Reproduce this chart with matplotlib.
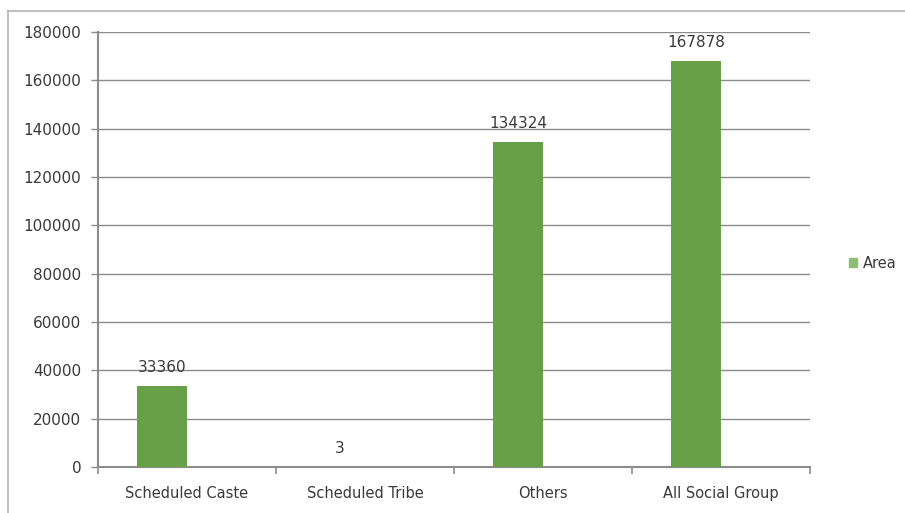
import matplotlib
matplotlib.use("Agg")
import matplotlib.pyplot as plt
from matplotlib.lines import Line2D
from matplotlib.ticker import FixedLocator, NullFormatter
import numpy as np

plt.rcParams["font.family"] = ["DejaVu Sans"]

categories = ["Scheduled Caste", "Scheduled Tribe", "Others", "All Social Group"]
area = [33360, 3, 134324, 167878]
y_ticks = [0, 20000, 40000, 60000, 80000, 100000, 120000, 140000, 160000, 180000]
series_name = "Area"

bar_color = "#68a047"
grid_color = "#8c8c8c"
text_color = "#3a3a3a"

W, H = 905, 513
fig = plt.figure(figsize=(W / 100, H / 100), dpi=100)
fig.patch.set_facecolor("white")

# outer chart frame (top and left edges)
fig.add_artist(Line2D([8 / W, 8 / W], [0, 1 - 11 / H], color="#b4b4b4", lw=1.2))
fig.add_artist(Line2D([8 / W, 1], [1 - 11 / H, 1 - 11 / H], color="#b4b4b4", lw=1.2))

ax = fig.add_axes([98 / W, 46 / H, (810 - 98) / W, (467 - 32) / H])

x = np.arange(len(categories))
offset = -0.14
width = 0.28
bars = ax.bar(x + offset, area, width=width, color=bar_color, label=series_name, zorder=3)

for b, v in zip(bars, area):
    ax.annotate(f"{v}", (b.get_x() + b.get_width() / 2, v), xytext=(0, 8),
                textcoords="offset points", ha="center", va="bottom",
                fontsize=11, color=text_color, zorder=4)

ax.set_xlim(-0.5, len(categories) - 0.5)
ax.set_ylim(0, 180000)
ax.set_yticks(y_ticks)
ax.set_yticklabels([str(t) for t in y_ticks])
ax.set_xticks(x)
ax.set_xticklabels(categories)
ax.xaxis.set_minor_locator(FixedLocator(np.arange(-0.5, len(categories), 1.0)))
ax.xaxis.set_minor_formatter(NullFormatter())

ax.yaxis.grid(True, color=grid_color, lw=1.0, zorder=0)
ax.set_axisbelow(True)

for s in ["top", "right"]:
    ax.spines[s].set_visible(False)
for s in ["left", "bottom"]:
    ax.spines[s].set_color(grid_color)
    ax.spines[s].set_linewidth(1.5)

ax.tick_params(axis="y", direction="out", length=5, width=1, color=grid_color,
               labelsize=11, labelcolor=text_color, pad=7)
ax.tick_params(axis="x", which="major", length=0, labelsize=10.5,
               labelcolor=text_color, pad=14)
ax.tick_params(axis="x", which="minor", direction="out", length=5, width=1.2,
               color=grid_color)

leg = fig.legend(handles=[plt.Rectangle((0, 0), 1, 1, color="#8cbf73")],
                 labels=[series_name], loc="center left",
                 bbox_to_anchor=(842 / W, 1 - 263 / H), frameon=False,
                 fontsize=10.5, handlelength=0.55, handleheight=0.55,
                 handletextpad=0.4, borderpad=0)
for t in leg.get_texts():
    t.set_color(text_color)

fig.savefig("out.png", dpi=100, facecolor="white")
